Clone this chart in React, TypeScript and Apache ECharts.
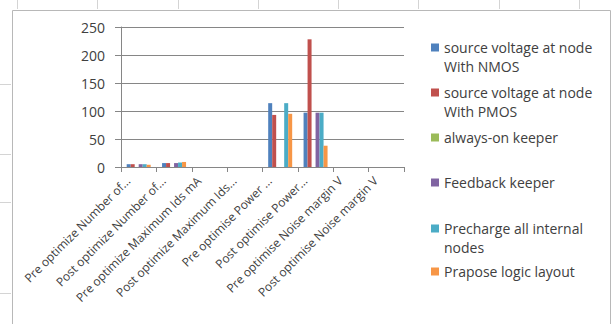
import React, { useEffect, useRef } from "react";
import * as echarts from "echarts";

const categories = [
  "Pre optimize Number of...",
  "Post optimize Number of...",
  "Pre optimize Maximum Ids mA",
  "Post optimize Maximum Ids...",
  "Pre optimise Power ...",
  "Post optimise Power...",
  "Pre optimise Noise margin V",
  "Post optimise Noise margin V",
];

const seriesNames = [
  "source voltage at node With NMOS",
  "source voltage at node With PMOS",
  "always-on keeper",
  "Feedback keeper",
  "Precharge all internal nodes",
  "Prapose logic layout",
];

const legendLines = [
  "source voltage at node\nWith NMOS",
  "source voltage at node\nWith PMOS",
  "always-on keeper",
  "Feedback keeper",
  "Precharge all internal\nnodes",
  "Prapose logic layout",
];

const nmos = [5, 7, 0, 0, 114, 97, 0, 0];
const pmos = [5, 7, 0, 0, 93, 228, 0, 0];
const alwaysOn = [0, 0, 0, 0, 0, 0, 0, 0];
const feedback = [5, 7, 0, 0, 0, 97, 0, 0];
const precharge = [5, 8, 0, 0, 114, 97, 0, 0];
const prapose = [4, 9, 0, 0, 95, 38, 0, 0];

const seriesData = [nmos, pmos, alwaysOn, feedback, precharge, prapose];
const colors = ["#4F81BD", "#C0504D", "#9BBB59", "#8064A2", "#4BACC6", "#F79646"];

const yTicks = [0, 50, 100, 150, 200, 250];

const legendTops = [33, 78, 123, 168, 214, 257];

export default function App() {
  const ref = useRef<HTMLDivElement>(null);

  useEffect(() => {
    if (!ref.current) return;
    const chart = echarts.init(ref.current, undefined, { renderer: "svg" });
    const font = "'Open Sans', 'Liberation Sans', sans-serif";
    const grey = "#868686";
    const lh = 19;

    const legends = seriesNames.map((name, i) => {
      const twoLine = legendLines[i].indexOf("\n") >= 0;
      return {
        show: true,
        orient: "vertical",
        left: 426,
        top: legendTops[i],
        data: [name],
        icon: twoLine ? "path://M0,0H8V8H0Z M0,27H8" : "rect",
        itemWidth: 8,
        itemHeight: twoLine ? 27 : 8,
        symbolKeepAspect: true,
        selectedMode: false,
        formatter: () => legendLines[i],
        textStyle: {
          fontFamily: font,
          fontSize: 14,
          color: "#404040",
          lineHeight: lh,
        },
      };
    });

    const topMarks = [17, 97, 178, 258, 338, 418, 499, 579].map((x) => ({
      type: "line",
      shape: { x1: x + 0.5, y1: 0, x2: x + 0.5, y2: 9 },
      style: { stroke: "#d4d4d4", lineWidth: 1 },
      silent: true,
    }));
    const leftMarks = [84, 154, 202, 293].map((y) => ({
      type: "line",
      shape: { x1: 0, y1: y + 0.5, x2: 11, y2: y + 0.5 },
      style: { stroke: "#d4d4d4", lineWidth: 1 },
      silent: true,
    }));

    chart.setOption({
      animation: false,
      backgroundColor: "#ffffff",
      color: colors,
      graphic: [
        {
          type: "rect",
          shape: { x: 12.5, y: 10.5, width: 598, height: 330 },
          style: { fill: "none", stroke: "#b8b8b8", lineWidth: 1 },
          silent: true,
          z: -10,
        },
        ...topMarks,
        ...leftMarks,
      ],
      legend: legends,
      grid: { left: 121, right: 211, top: 27, bottom: 157, containLabel: false },
      xAxis: {
        type: "category",
        data: categories,
        boundaryGap: true,
        axisLine: { show: true, lineStyle: { color: grey, width: 1 } },
        axisTick: { show: true, length: 5, alignWithLabel: false, lineStyle: { color: grey } },
        axisLabel: {
          interval: 0,
          rotate: 45,
          margin: 1,
          fontFamily: font,
          fontSize: 12,
          color: "#404040",
          padding: [0, 15, 0, 0],
        },
        splitLine: { show: false },
      },
      yAxis: {
        type: "value",
        min: yTicks[0],
        max: yTicks[yTicks.length - 1],
        interval: 50,
        axisLine: { show: true, lineStyle: { color: grey, width: 1 } },
        axisTick: { show: true, length: 6, lineStyle: { color: grey } },
        axisLabel: {
          margin: 16,
          fontFamily: font,
          fontSize: 14,
          color: "#404040",
        },
        splitLine: { show: true, lineStyle: { color: grey, width: 1 } },
      },
      series: seriesNames.map((name, i) => ({
        name,
        type: "bar",
        data: seriesData[i],
        barWidth: 4,
        barGap: "0%",
        itemStyle: { color: colors[i] },
      })),
    });

    return () => chart.dispose();
  }, []);

  return (
    <div
      ref={ref}
      style={{ position: "fixed", left: 0, top: 0, width: 615, height: 324 }}
    />
  );
}
